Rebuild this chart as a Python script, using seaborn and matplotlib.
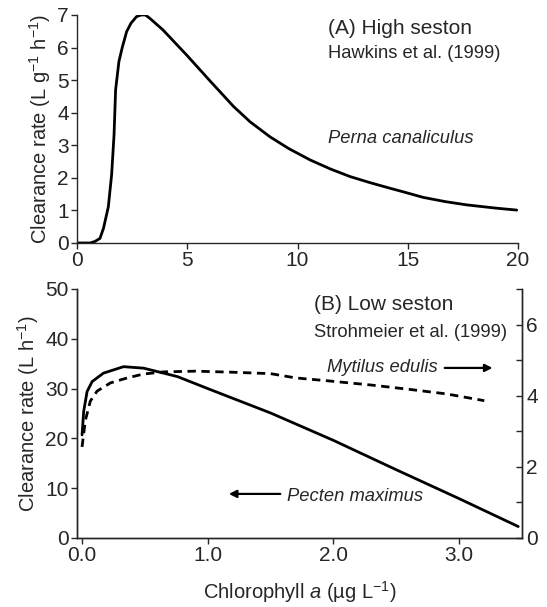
import matplotlib
matplotlib.use("Agg")
import matplotlib.pyplot as plt
import seaborn as sns
import numpy as np

sns.set_style("ticks")
plt.rcParams['font.family'] = ['Liberation Sans', 'DejaVu Sans']
plt.rcParams['mathtext.fontset'] = 'custom'
plt.rcParams['mathtext.rm'] = 'Liberation Sans'
plt.rcParams['mathtext.it'] = 'Liberation Sans:italic'

# Panel A: Perna canaliculus (Hawkins et al. 1999)
perna_x = [0, 0.6, 0.82, 1.04, 1.2, 1.42, 1.57, 1.68, 1.75, 1.9, 2.05, 2.25, 2.45, 2.7, 2.9, 3.1, 3.3, 3.9, 5.0, 6.0, 7.1, 7.85, 8.75, 9.6, 10.57, 11.5, 12.38, 13.3, 14.2, 14.8, 15.7, 16.7, 17.67, 19.0, 19.94]
perna_y = [0, 0, 0.05, 0.14, 0.45, 1.11, 2.1, 3.33, 4.7, 5.57, 6.0, 6.49, 6.75, 6.95, 7.0, 7.0, 6.9, 6.54, 5.75, 5.0, 4.19, 3.72, 3.26, 2.9, 2.55, 2.27, 2.04, 1.85, 1.68, 1.57, 1.40, 1.27, 1.17, 1.07, 1.01]

# Panel B: Pecten maximus (left axis, L h-1)
pecten_x = [0.0, 0.013, 0.04, 0.08, 0.17, 0.33, 0.49, 0.76, 1.0, 1.5, 2.0, 2.5, 3.0, 3.47]
pecten_y = [20.7, 25.4, 29.4, 31.4, 33.1, 34.4, 34.1, 32.4, 30.0, 25.1, 19.6, 13.7, 7.9, 2.3]

# Panel B: Mytilus edulis (right axis)
mytilus_x = [0.0, 0.026, 0.066, 0.12, 0.226, 0.36, 0.49, 0.65, 0.9, 1.2, 1.5, 1.7, 1.95, 2.3, 2.6, 2.9, 3.2]
mytilus_y = [2.56, 3.3, 3.85, 4.13, 4.36, 4.5, 4.61, 4.67, 4.69, 4.66, 4.62, 4.5, 4.42, 4.3, 4.18, 4.05, 3.86]

fig = plt.figure(figsize=(5.47, 6.07), dpi=100)
axA = fig.add_axes([0.1408, 0.5997, 0.947 - 0.1408, 0.9753 - 0.5997])
axB = fig.add_axes([0.1408, 0.1137, 0.9543 - 0.1408, 0.5239 - 0.1137])

FS = 15
FL = 14.5
FT = 13.2
lw = 2.0

# Panel A
sns.lineplot(x=perna_x, y=perna_y, ax=axA, color='black', linewidth=lw, sort=False)
axA.set_xlim(0, 20)
axA.set_ylim(0, 7)
axA.set_xticks([0, 5, 10, 15, 20])
axA.set_yticks(range(0, 8))
axA.tick_params(labelsize=FS, length=4, width=1, direction='out', pad=2)
axA.set_ylabel('Clearance rate (L g$^{-1}$ h$^{-1}$)', fontsize=FL, labelpad=3)
for s in ['top', 'right']:
    axA.spines[s].set_visible(False)
for s in ['left', 'bottom']:
    axA.spines[s].set_linewidth(1)
axA.text(0.569, 0.94, '(A) High seston', transform=axA.transAxes, fontsize=FS, va='center', ha='left')
axA.text(0.569, 0.83, 'Hawkins et al. (1999)', transform=axA.transAxes, fontsize=FT, va='center', ha='left')
axA.text(0.569, 0.46, 'Perna canaliculus', transform=axA.transAxes, fontsize=FT, va='center', ha='left', style='italic')

# Panel B
sns.lineplot(x=pecten_x, y=pecten_y, ax=axB, color='black', linewidth=lw, sort=False)
axB.set_xlim(-0.04, 3.5)
axB.set_ylim(0, 50)
axB.set_xticks([0, 1, 2, 3])
axB.set_xticklabels(['0.0', '1.0', '2.0', '3.0'])
axB.set_yticks([0, 10, 20, 30, 40, 50])
axB.tick_params(labelsize=FS, length=4, width=1, direction='out', pad=2)
axB.set_ylabel('Clearance rate (L h$^{-1}$)', fontsize=FL, labelpad=3)
axB.set_xlabel('Chlorophyll $a$ (µg L$^{-1}$)', fontsize=FL, labelpad=10)
axB.spines['top'].set_visible(False)

axR = axB.twinx()
sns.lineplot(x=mytilus_x, y=mytilus_y, ax=axR, color='black', linewidth=lw, sort=False)
axR.lines[0].set_dashes([3, 2])
axR.set_ylim(0, 7)
axR.set_yticks(range(0, 8))
axR.set_yticklabels(['0', '', '2', '', '4', '', '6', ''])
axR.tick_params(labelsize=FS, length=4, width=1, direction='in', pad=3)
axR.spines['top'].set_visible(False)
axR.set_ylabel('')
for a in [axB, axR]:
    for s in a.spines.values():
        s.set_linewidth(1)

axB.text(0.533, 0.936, '(B) Low seston', transform=axB.transAxes, fontsize=FS, va='center', ha='left')
axB.text(0.533, 0.827, 'Strohmeier et al. (1999)', transform=axB.transAxes, fontsize=FT, va='center', ha='left')
axB.text(0.562, 0.683, 'Mytilus edulis', transform=axB.transAxes, fontsize=FT, va='center', ha='left', style='italic')
axB.annotate('', xy=(0.94, 0.683), xytext=(0.82, 0.683), xycoords='axes fraction',
             arrowprops=dict(arrowstyle='-|>', color='black', lw=1.6, mutation_scale=11))
axB.text(0.472, 0.165, 'Pecten maximus', transform=axB.transAxes, fontsize=FT, va='center', ha='left', style='italic')
axB.annotate('', xy=(0.335, 0.177), xytext=(0.463, 0.177), xycoords='axes fraction',
             arrowprops=dict(arrowstyle='-|>', color='black', lw=1.6, mutation_scale=11))

fig.savefig('out.png', dpi=100)
